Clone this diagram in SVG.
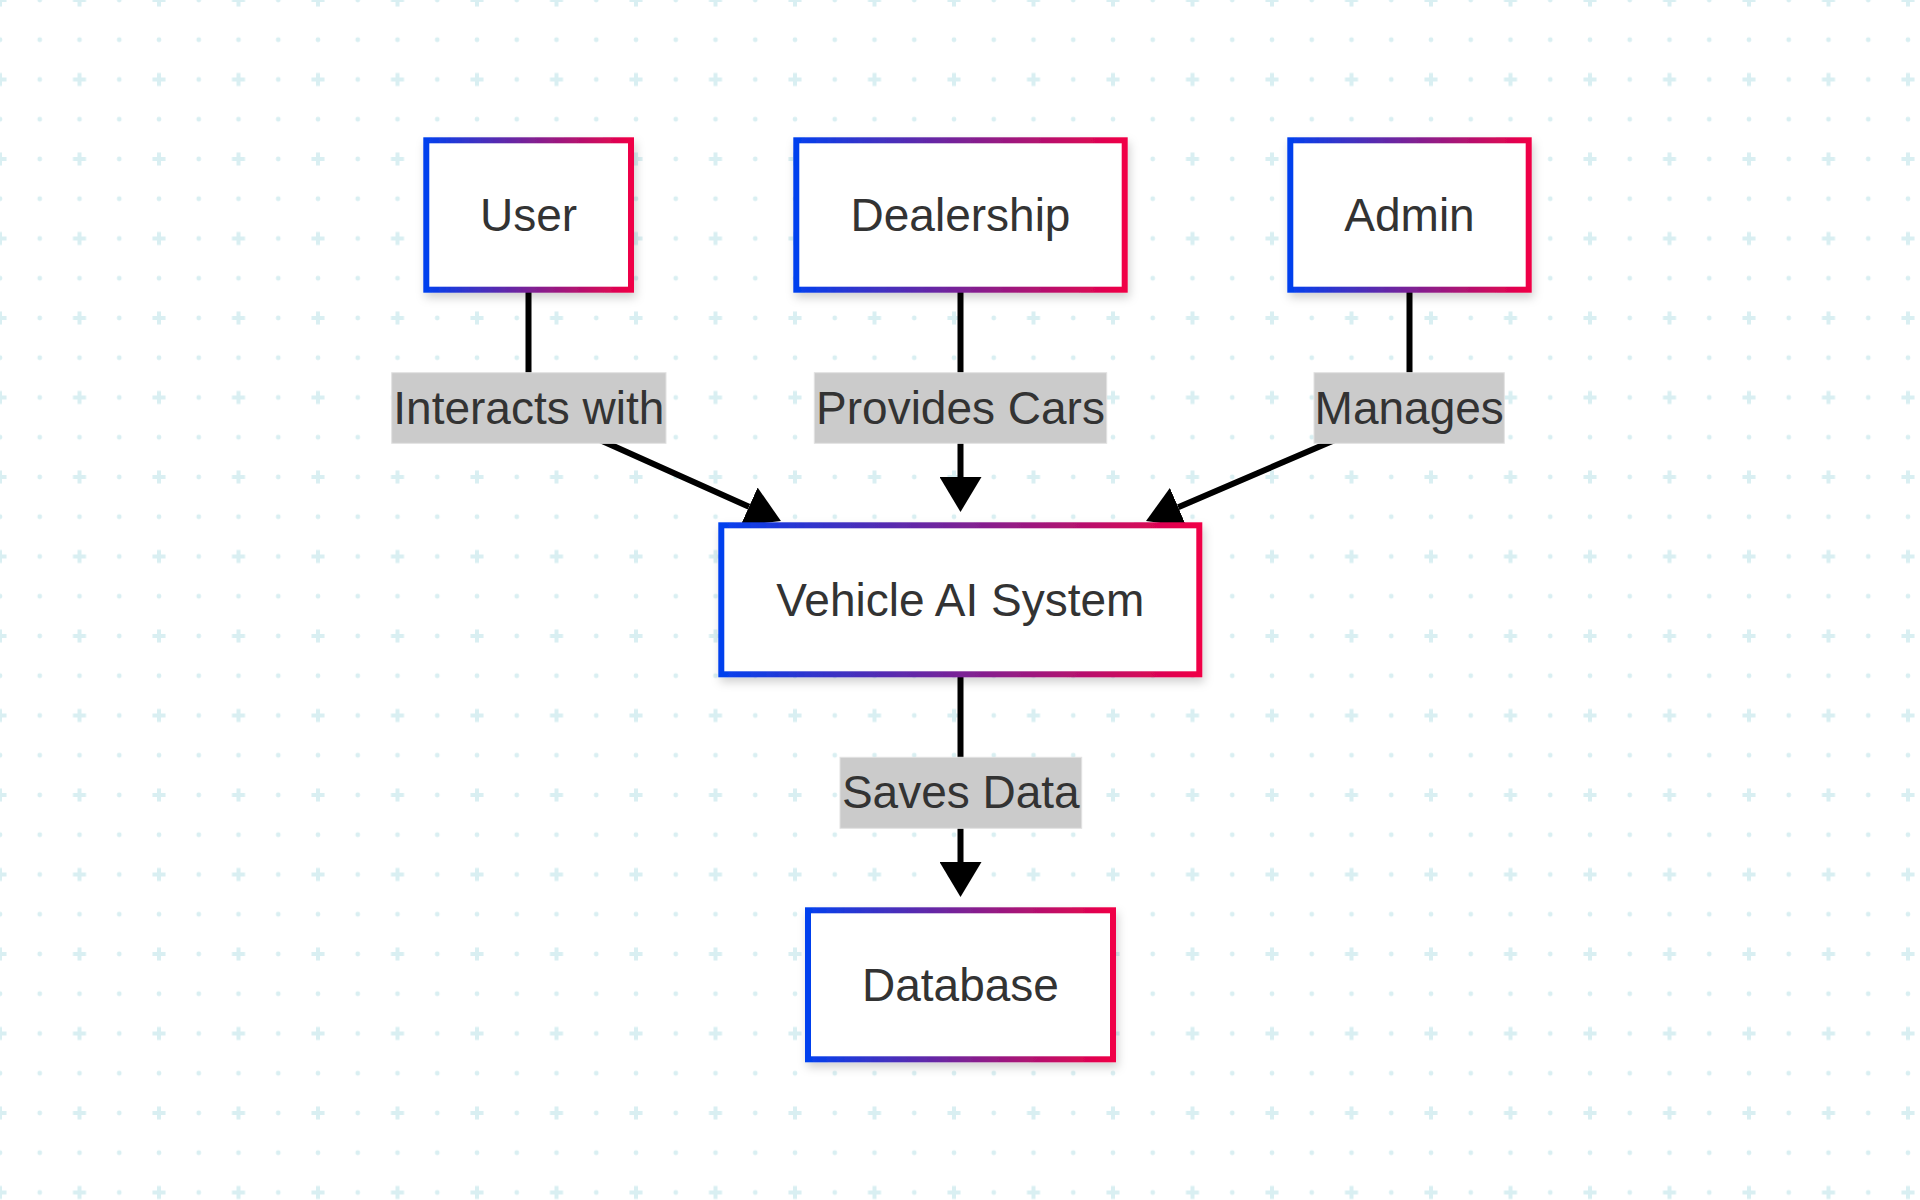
<svg xmlns="http://www.w3.org/2000/svg" width="1920" height="1200" viewBox="0 0 1920 1200">
  <style>
    .node rect { fill: #ffffff; stroke: url(#border); stroke-width: 6; filter: url(#shadow); }
    .node text { font-family: "Liberation Sans", Arial, sans-serif; font-size: 46px; fill: #333333; text-anchor: middle; }
    .label rect { fill: #cbcbcb; stroke: #e2e2e2; stroke-width: 1; }
    .label text { font-family: "Liberation Sans", Arial, sans-serif; font-size: 46px; fill: #333333; text-anchor: middle; }
    .edge { fill: none; stroke: #000000; stroke-width: 6; marker-end: url(#arrow); }
  </style>
  <defs>
    <pattern id="grid" patternUnits="userSpaceOnUse" x="-19.875" y="-19.875" width="79.5" height="79.5">
      <rect x="13.375" y="17.875" width="13" height="4" fill="#d9eff2"/>
      <rect x="17.875" y="13.375" width="4" height="13" fill="#d9eff2"/>
      <circle cx="59.625" cy="19.875" r="2.4" fill="#d9eff2"/>
      <circle cx="19.875" cy="59.625" r="2.4" fill="#d9eff2"/>
      <circle cx="59.625" cy="59.625" r="2.4" fill="#d9eff2"/>
    </pattern>
    <linearGradient id="border" x1="0" y1="0" x2="1" y2="0">
      <stop offset="0" stop-color="#0340ee"/>
      <stop offset="0.5" stop-color="#7a2296"/>
      <stop offset="1" stop-color="#f00046"/>
    </linearGradient>
    <filter id="shadow" x="-20%" y="-20%" width="140%" height="150%">
      <feDropShadow dx="2" dy="5" stdDeviation="5" flood-color="#000000" flood-opacity="0.18"/>
    </filter>
    <marker id="arrow" markerUnits="userSpaceOnUse" markerWidth="36" markerHeight="42" refX="0" refY="21" orient="auto" viewBox="0 0 36 42">
      <path d="M0,0 L35,21 L0,42 Z" fill="#000000"/>
    </marker>
  </defs>

  <rect x="0" y="0" width="1920" height="1200" fill="#ffffff"/>
  <rect x="0" y="0" width="1920" height="1200" fill="url(#grid)"/>

  <g id="connectors">
    <path class="edge" d="M528.5,292 L528.5,408 L749,506.7"/>
    <path class="edge" d="M960.5,292 L960.5,477"/>
    <path class="edge" d="M1409.5,292 L1409.5,408 L1178.2,507.2"/>
    <path class="edge" d="M960.5,677 L960.5,862"/>
  </g>

  <g id="edge-labels">
    <g id="label-interacts" class="label">
      <rect x="391.7" y="372.7" width="274.3" height="70.6"/>
      <text x="528.8" y="423.5">Interacts with</text>
    </g>
    <g id="label-provides" class="label">
      <rect x="814.3" y="372.7" width="292.4" height="70.6"/>
      <text x="960.5" y="423.5">Provides Cars</text>
    </g>
    <g id="label-manages" class="label">
      <rect x="1314" y="372.7" width="190.3" height="70.6"/>
      <text x="1409.2" y="423.5">Manages</text>
    </g>
    <g id="label-saves" class="label">
      <rect x="840" y="757.3" width="241.7" height="71"/>
      <text x="960.8" y="808.3">Saves Data</text>
    </g>
  </g>

  <g id="node-user" class="node">
    <rect x="426.3" y="140.3" width="204.7" height="149.4"/>
    <text x="528.6" y="231">User</text>
  </g>
  <g id="node-dealership" class="node">
    <rect x="796.3" y="140.3" width="328.4" height="149.4"/>
    <text x="960.5" y="231">Dealership</text>
  </g>
  <g id="node-admin" class="node">
    <rect x="1290.3" y="140.3" width="238.4" height="149.4"/>
    <text x="1409.5" y="231">Admin</text>
  </g>
  <g id="node-vehicle" class="node">
    <rect x="721.3" y="525.3" width="478" height="149"/>
    <text x="960.3" y="616">Vehicle AI System</text>
  </g>
  <g id="node-database" class="node">
    <rect x="808" y="910.3" width="305" height="149"/>
    <text x="960.5" y="1001">Database</text>
  </g>
</svg>
